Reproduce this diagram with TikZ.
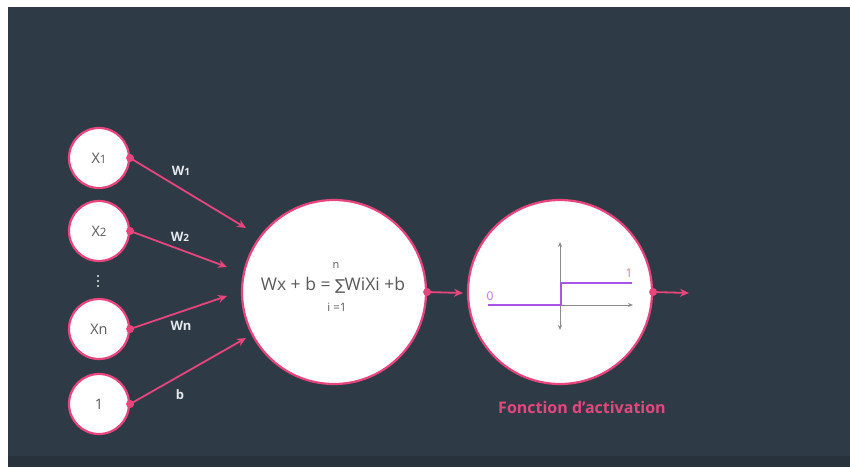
\documentclass[tikz,border=0pt]{standalone}
\usepackage{fontspec}
\setmainfont{Open Sans}
\newfontfamily\symf{DejaVu Sans}
\usetikzlibrary{arrows.meta}
\definecolor{bg}{HTML}{2E3B47}
\definecolor{bgdark}{HTML}{28323D}
\definecolor{pinkc}{HTML}{E8457C}
\definecolor{purp}{HTML}{A655E6}
\definecolor{txtg}{HTML}{5A5A5A}
\definecolor{lbl}{HTML}{E4E8EC}
\definecolor{axg}{HTML}{8A8A8A}
\tikzset{
  neuron/.style={circle,fill=white,draw=pinkc,line width=2.2pt,inner sep=0pt},
  inbox/.style={neuron,minimum size=60pt,font=\fontsize{14.5}{16}\selectfont,text=txtg},
  bigbox/.style={neuron,minimum size=184pt},
  conn/.style={pinkc,line width=1.8pt,-{Stealth[length=9pt,width=8pt]}},
  pdot/.style={circle,fill=pinkc,inner sep=0pt,minimum size=8pt},
  wlbl/.style={text=lbl,font=\bfseries\fontsize{13}{15}\selectfont},
  vdot/.style={circle,fill=lbl,inner sep=0pt,minimum size=2.2pt},
}
\begin{document}
\begin{tikzpicture}[x=1pt,y=-1pt]
\useasboundingbox (0,0) rectangle (850,467);
\fill[white] (0,0) rectangle (850,467);
\fill[bg] (8,7) rectangle (850,467);
\fill[bgdark] (8,456) rectangle (850,467);
% inputs
\node[inbox] (x1) at (99,158) {X\fontsize{11.5}{12}\selectfont 1};
\node[inbox] (x2) at (99,231) {X\fontsize{11.5}{12}\selectfont 2};
\node[inbox] (xn) at (99,329) {Xn};
\node[inbox] (one) at (99,404) {1};
\node[vdot] (v1) at (98,276) {};
\node[vdot] (v2) at (98,281) {};
\node[vdot] (v3) at (98,286) {};
% dots at the right edge of inputs
\node[pdot] (d1) at (x1.east) {};
\node[pdot] (d2) at (x2.east) {};
\node[pdot] (dn) at (xn.east) {};
\node[pdot] (d0) at (one.east) {};
% sum node
\node[bigbox] (sum) at (334,292) {};
\coordinate (t1) at (246,228);
\coordinate (t2) at (227,267);
\coordinate (tn) at (227,296);
\coordinate (t0) at (246,338);
\draw[conn] (d1.center) -- (t1);
\draw[conn] (d2.center) -- (t2);
\draw[conn] (dn.center) -- (tn);
\draw[conn] (d0.center) -- (t0);
\node[wlbl] (w1) at (181,171) {W\fontsize{10}{11}\selectfont 1};
\node[wlbl] (w2) at (180,237) {W\fontsize{10}{11}\selectfont 2};
\node[wlbl] (wn) at (181,326) {Wn};
\node[wlbl] (wb) at (180,395) {b};
% formula
\node[text=txtg,font=\fontsize{17.5}{19}\selectfont] (form) at (333,285) {Wx + b = {\symf\fontsize{15}{16}\selectfont ∑}\kern-0.5pt WiXi +b};
\node[text=txtg,font=\fontsize{11}{12}\selectfont] (nn) at (336,265) {n};
\node[text=txtg,font=\fontsize{11.5}{12}\selectfont] (ii) at (337,307) {i =1};
% activation node
\node[bigbox] (act) at (560,292) {};
\node[pdot] (ds) at (sum.east) {};
\coordinate (ta) at (463,293);
\draw[conn] (ds.center) -- (ta);
\node[pdot] (da) at (act.east) {};
\coordinate (to) at (689,293);
\draw[conn] (da.center) -- (to);
% axes
\coordinate (vt) at (560,242);
\coordinate (vb) at (560,330);
\coordinate (hl) at (488,305);
\coordinate (hr) at (633,305);
\draw[axg,line width=0.9pt,{Stealth[length=5pt,width=4pt]}-{Stealth[length=5pt,width=4pt]}] (vb) -- (vt);
\draw[axg,line width=0.9pt,-{Stealth[length=5pt,width=4pt]}] (hl) -- (hr);
\draw[purp,line width=2pt] (488,305) -- (561,305) -- (561,283) -- (632,283);
\node[text=purp!80,font=\fontsize{12}{13}\selectfont] (zero) at (490,296) {0};
\node[text=purp!80,font=\fontsize{12}{13}\selectfont] (onel) at (629,273) {1};
\node[text=pinkc,font=\bfseries\fontsize{16}{18}\selectfont] (cap) at (582,407) {Fonction d'activation};
\end{tikzpicture}
\end{document}
